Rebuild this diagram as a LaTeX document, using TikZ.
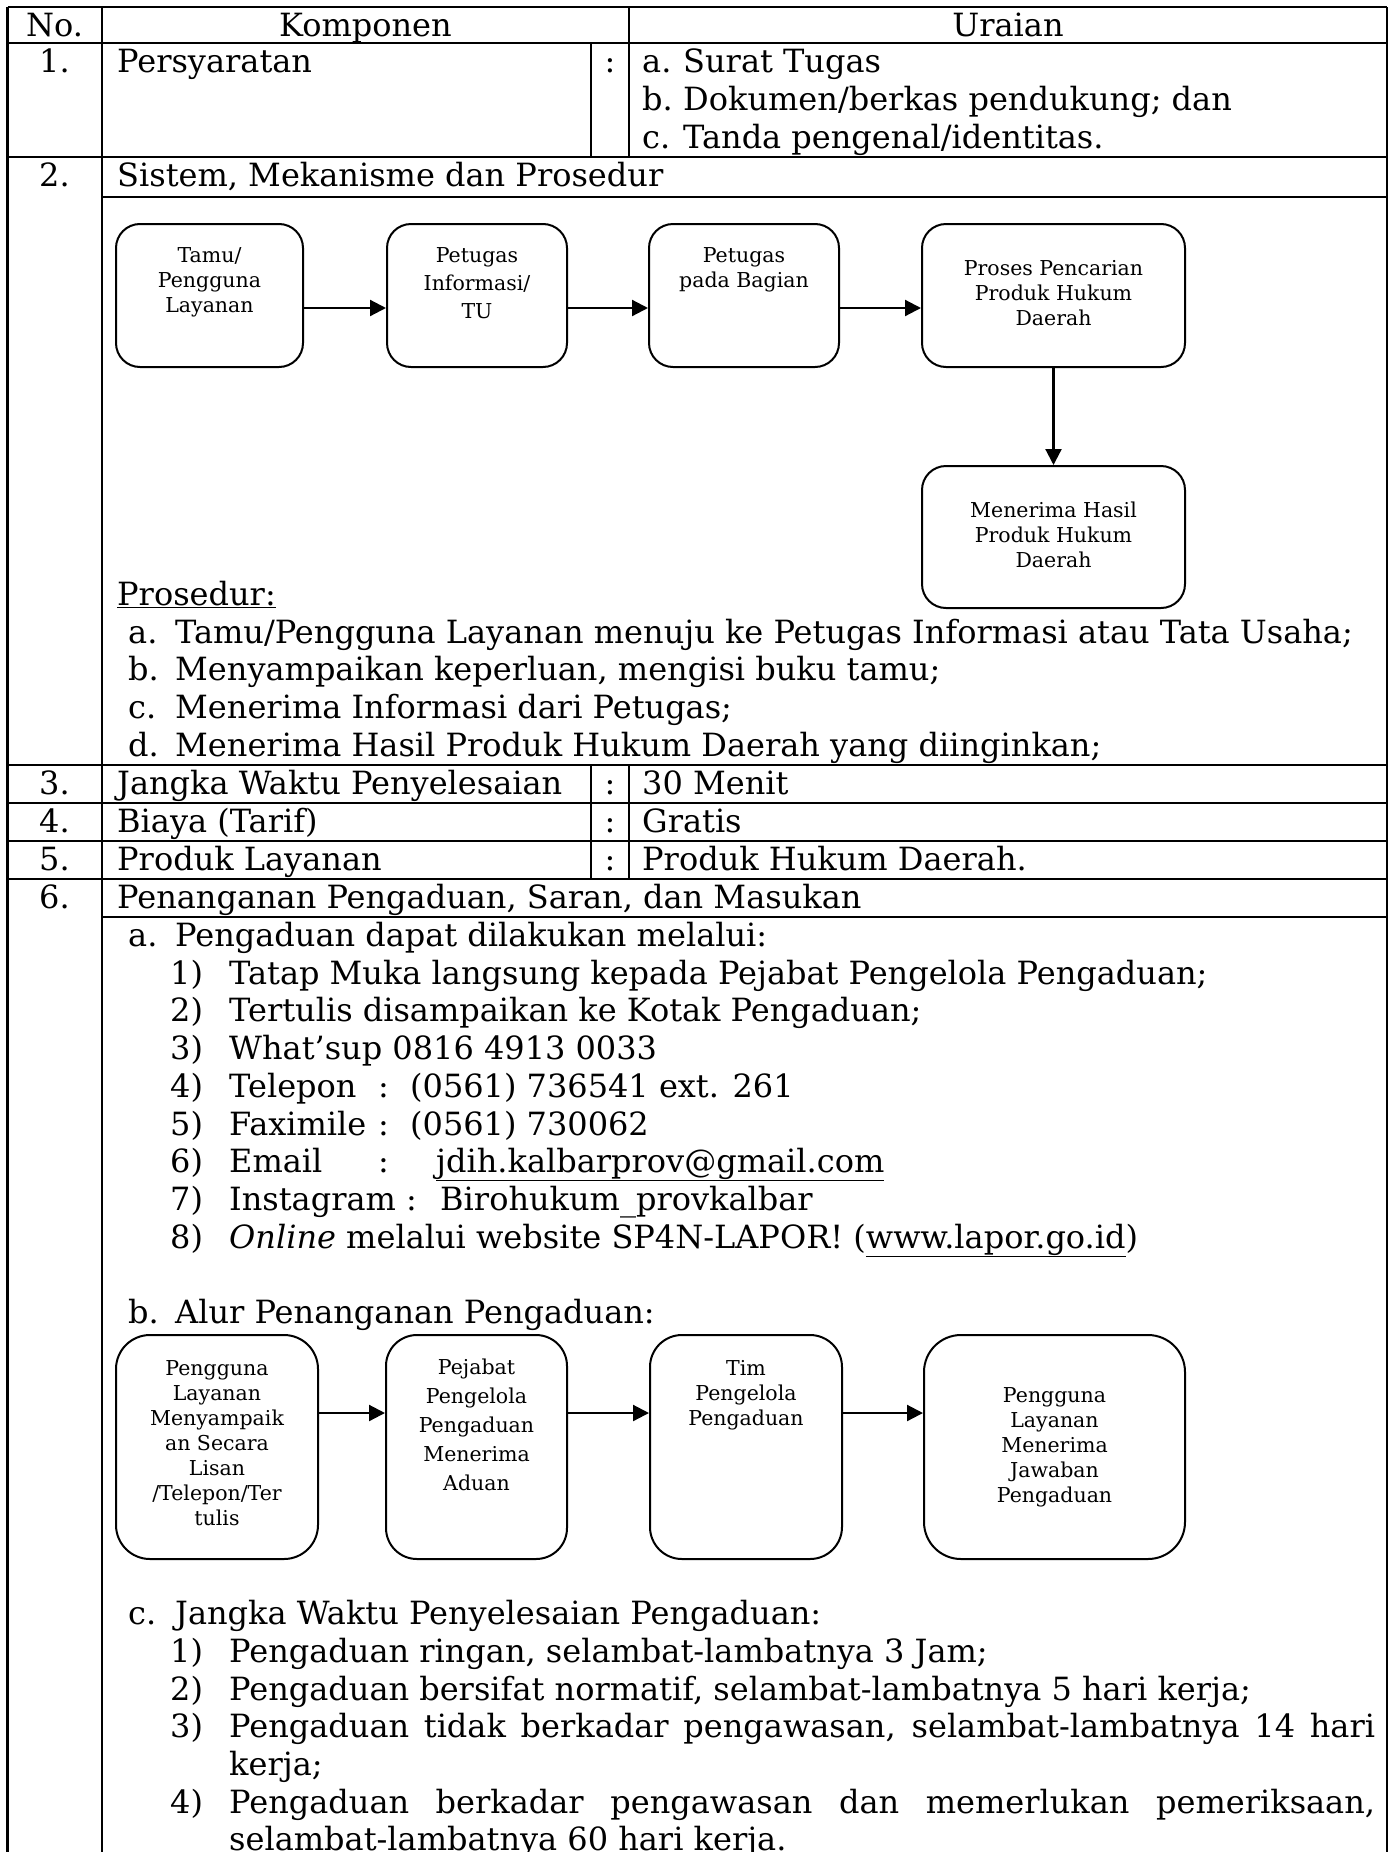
\documentclass[tikz,border=0pt]{standalone}
\usepackage{fontspec}
\setmainfont{DejaVu Serif}
\usetikzlibrary{arrows.meta}

\newcommand{\bodyfont}{\fontsize{32bp}{37.7bp}\selectfont}
\newcommand{\flowfont}[1]{\fontsize{20.5bp}{#1}\selectfont}

\tikzset{
  rule/.style={line width=2.2bp},
  subrule/.style={line width=1.4bp},
  txt/.style={anchor=base west,inner sep=0pt,font=\bodyfont},
  ctxt/.style={anchor=base,inner sep=0pt,font=\bodyfont},
  flow/.style={draw,line width=2bp,inner sep=0pt},
  flowtxt/.style={inner sep=0pt,font=\flowfont{25bp}},
}

\begin{document}
\begin{tikzpicture}[>={Triangle[length=16bp,width=16bp]},line join=bevel,x=1bp,y=-1bp]
\useasboundingbox (0,0) rectangle (1395,1852);
%%
% Table rules
\foreach \y in {7,43,157,765,803,841,879}
  \draw[rule] (7.5,\y) -- (1387,\y);
\foreach \y in {197,917}
  \draw[rule] (102,\y) -- (1387,\y);
\foreach \x in {7.5,102,1387}
  \draw[rule] (\x,7) -- (\x,1852);
\draw[subrule] (629,7) -- (629,157);
\draw[subrule] (629,765) -- (629,879);
\draw[subrule] (591,43) -- (591,157);
\draw[subrule] (591,765) -- (591,879);
%
% Node: header
\node[ctxt] (no-h) at (54.5,36) {No.};
\node[ctxt] (komp-h) at (365.5,36) {Komponen};
\node[ctxt] (urai-h) at (1008,36) {Uraian};
% Node: row 1
\node[ctxt] (n1) at (54.5,72) {1.};
\node[txt] (syarat) at (117,72) {Persyaratan};
\node[ctxt] (col1) at (610,72) {:};
\node[txt] (syarat-a) at (642,72) {a.};
\node[txt] (syarat-at) at (683,72) {Surat Tugas};
\node[txt] (syarat-b) at (642,110) {b.};
\node[txt] (syarat-bt) at (683,110) {Dokumen/berkas pendukung; dan};
\node[txt] (syarat-c) at (642,148) {c.};
\node[txt] (syarat-ct) at (683,148) {Tanda pengenal/identitas.};
% Node: row 2
\node[ctxt] (n2) at (54.5,186) {2.};
\node[txt] (sistem) at (117,186) {Sistem, Mekanisme dan Prosedur};
%
% Node: tamu
\node[flow,rounded corners=24bp,minimum width=187bp,minimum height=143bp] (tamu) at (209.5,295.5) {};
\node[flowtxt,anchor=north] (tamu-t) at ([yshift=-21.5bp]tamu.north)
  {\begin{tabular}{@{}c@{}}Tamu/\\Pengguna\\Layanan\end{tabular}};
% Node: info
\node[flow,rounded corners=24bp,minimum width=180bp,minimum height=143bp] (info) at (477,295.5) {};
\node[flowtxt,font=\flowfont{28bp},anchor=north] (info-t) at ([yshift=-19.4bp]info.north)
  {\begin{tabular}{@{}c@{}}Petugas\\Informasi/\\TU\end{tabular}};
% Node: bagian
\node[flow,rounded corners=24bp,minimum width=190bp,minimum height=143bp] (bagian) at (744,295.5) {};
\node[flowtxt,anchor=north] (bagian-t) at ([yshift=-21.5bp]bagian.north)
  {\begin{tabular}{@{}c@{}}Petugas\\pada Bagian\end{tabular}};
% Node: cari
\node[flow,rounded corners=24bp,minimum width=263bp,minimum height=143bp] (cari) at (1053.5,295.5) {};
\node[flowtxt] (cari-t) at (cari.center)
  {\begin{tabular}{@{}c@{}}Proses Pencarian\\Produk Hukum\\Daerah\end{tabular}};
% Node: hasil
\node[flow,rounded corners=24bp,minimum width=263bp,minimum height=142bp] (hasil) at (1053.5,537) {};
\node[flowtxt] (hasil-t) at (hasil.center)
  {\begin{tabular}{@{}c@{}}Menerima Hasil\\Produk Hukum\\Daerah\end{tabular}};
% Edge: tamu -> info -> bagian -> cari -> hasil
\draw[->,line width=2.2bp] ([yshift=-12.5bp]tamu.east) -- ([yshift=-12.5bp]info.west);
\draw[->,line width=2.2bp] ([yshift=-12.5bp]info.east) -- ([yshift=-12.5bp]bagian.west);
\draw[->,line width=2.2bp] ([yshift=-12.5bp]bagian.east) -- ([yshift=-12.5bp]cari.west);
\draw[->,line width=2.2bp] (cari.south) -- (hasil.north);
%
% Node: prosedur
\node[txt] (prosedur) at (117,605) {\underline{Prosedur:}};
\node[txt] (pro-a) at (128,643) {a.};
\node[txt] (pro-at) at (175,643) {Tamu/Pengguna Layanan menuju ke Petugas Informasi atau Tata Usaha;};
\node[txt] (pro-b) at (128,680) {b.};
\node[txt] (pro-bt) at (175,680) {Menyampaikan keperluan, mengisi buku tamu;};
\node[txt] (pro-c) at (128,718) {c.};
\node[txt] (pro-ct) at (175,718) {Menerima Informasi dari Petugas;};
\node[txt] (pro-d) at (128,756) {d.};
\node[txt] (pro-dt) at (175,756) {Menerima Hasil Produk Hukum Daerah yang diinginkan;};
% Node: rows 3 to 6
\node[ctxt] (n3) at (54.5,794) {3.};
\node[txt] (waktu) at (117,794) {Jangka Waktu Penyelesaian};
\node[ctxt] (col3) at (610,794) {:};
\node[txt] (waktu-v) at (642,794) {30 Menit};
\node[ctxt] (n4) at (54.5,832) {4.};
\node[txt] (biaya) at (117,832) {Biaya (Tarif)};
\node[ctxt] (col4) at (610,832) {:};
\node[txt] (biaya-v) at (642,832) {Gratis};
\node[ctxt] (n5) at (54.5,870) {5.};
\node[txt] (produk) at (117,870) {Produk Layanan};
\node[ctxt] (col5) at (610,870) {:};
\node[txt] (produk-v) at (642,870) {Produk Hukum Daerah.};
\node[ctxt] (n6) at (54.5,908) {6.};
\node[txt] (aduan) at (117,908) {Penanganan Pengaduan, Saran, dan Masukan};
%
% Node: saluran pengaduan
\node[txt] (sal-a) at (128,946) {a.};
\node[txt] (sal-at) at (175,946) {Pengaduan dapat dilakukan melalui:};
\node[txt] (sal-1) at (170,984) {1)};
\node[txt] (sal-1t) at (229,984) {Tatap Muka langsung kepada Pejabat Pengelola Pengaduan;};
\node[txt] (sal-2) at (170,1021) {2)};
\node[txt] (sal-2t) at (229,1021) {Tertulis disampaikan ke Kotak Pengaduan;};
\node[txt] (sal-3) at (170,1059) {3)};
\node[txt] (sal-3t) at (229,1059) {What’sup 0816 4913 0033};
\node[txt] (sal-4) at (170,1097) {4)};
\node[txt] (sal-4t) at (229,1097) {Telepon};
\node[txt] (sal-4c) at (378,1097) {:};
\node[txt] (sal-4v) at (410,1097) {(0561) 736541 ext. 261};
\node[txt] (sal-5) at (170,1135) {5)};
\node[txt] (sal-5t) at (229,1135) {Faximile};
\node[txt] (sal-5c) at (378,1135) {:};
\node[txt] (sal-5v) at (410,1135) {(0561) 730062};
\node[txt] (sal-6) at (170,1172) {6)};
\node[txt] (sal-6t) at (229,1172) {Email};
\node[txt] (sal-6c) at (378,1172) {:};
\node[txt] (sal-6v) at (436,1172) {\underline{jdih.kalbarprov@gmail.com}};
\node[txt] (sal-7) at (170,1210) {7)};
\node[txt] (sal-7t) at (229,1210) {Instagram};
\node[txt] (sal-7c) at (406,1210) {:};
\node[txt] (sal-7v) at (440,1210) {Birohukum\_provkalbar};
\node[txt] (sal-8) at (170,1248) {8)};
\node[txt] (sal-8t) at (229,1248) {\textit{Online} melalui website SP4N-LAPOR! (\underline{www.lapor.go.id})};
%
% Node: alur
\node[txt] (alur-b) at (128,1323) {b.};
\node[txt] (alur-bt) at (175,1323) {Alur Penanganan Pengaduan:};
% Node: lapor
\node[flow,rounded corners=34bp,minimum width=202bp,minimum height=224bp] (lapor) at (217,1447) {};
\node[flowtxt,anchor=north] (lapor-t) at ([yshift=-23.5bp]lapor.north)
  {\begin{tabular}{@{}c@{}}Pengguna\\Layanan\\Menyampaik\\an Secara\\Lisan\\/Telepon/Ter\\tulis\end{tabular}};
% Node: pejabat
\node[flow,rounded corners=31bp,minimum width=181bp,minimum height=224bp] (pejabat) at (476.5,1447) {};
\node[flowtxt,font=\flowfont{29bp},anchor=north] (pejabat-t) at ([yshift=-19.7bp]pejabat.north)
  {\begin{tabular}{@{}c@{}}Pejabat\\Pengelola\\Pengaduan\\Menerima\\Aduan\end{tabular}};
% Node: tim
\node[flow,rounded corners=32bp,minimum width=192bp,minimum height=224bp] (tim) at (746,1447) {};
\node[flowtxt,anchor=north] (tim-t) at ([yshift=-23.5bp]tim.north)
  {\begin{tabular}{@{}c@{}}Tim\\Pengelola\\Pengaduan\end{tabular}};
% Node: jawab
\node[flow,rounded corners=37bp,minimum width=261bp,minimum height=224bp] (jawab) at (1054.5,1447) {};
\node[flowtxt] (jawab-t) at (jawab.center)
  {\begin{tabular}{@{}c@{}}Pengguna\\Layanan\\Menerima\\Jawaban\\Pengaduan\end{tabular}};
% Edge: lapor -> pejabat -> tim -> jawab
\draw[->,line width=2.2bp] ([yshift=34bp]lapor.east) -- ([yshift=34bp]pejabat.west);
\draw[->,line width=2.2bp] ([yshift=34bp]pejabat.east) -- ([yshift=34bp]tim.west);
\draw[->,line width=2.2bp] ([yshift=34bp]tim.east) -- ([yshift=34bp]jawab.west);
%
% Node: jangka waktu pengaduan
\node[txt] (jw-c) at (128,1624) {c.};
\node[txt] (jw-ct) at (175,1624) {Jangka Waktu Penyelesaian Pengaduan:};
\node[txt] (jw-1) at (170,1662) {1)};
\node[txt] (jw-1t) at (229,1662) {Pengaduan ringan, selambat-lambatnya 3 Jam;};
\node[txt] (jw-2) at (170,1700) {2)};
\node[txt] (jw-2t) at (229,1700) {Pengaduan bersifat normatif, selambat-lambatnya 5 hari kerja;};
\node[txt] (jw-3) at (170,1737) {3)};
\node[txt] (jw-3t) at (229,1737) {\makebox[1146bp][s]{Pengaduan tidak berkadar pengawasan, selambat-lambatnya 14 hari}};
\node[txt] (jw-3u) at (229,1775) {kerja;};
\node[txt] (jw-4) at (170,1813) {4)};
\node[txt] (jw-4t) at (229,1813) {\makebox[1146bp][s]{Pengaduan berkadar pengawasan dan memerlukan pemeriksaan,}};
\node[txt] (jw-4u) at (229,1850) {selambat-lambatnya 60 hari kerja.};
%
\end{tikzpicture}
\end{document}
